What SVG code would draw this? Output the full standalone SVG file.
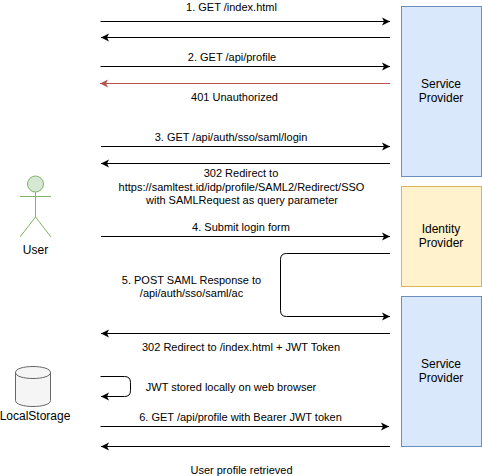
<svg xmlns="http://www.w3.org/2000/svg" width="482" height="476" viewBox="0 0 482 476">
<style>
text{font-family:"Liberation Sans",Arial,Helvetica,sans-serif;font-size:11px;fill:#000;text-anchor:middle}
.n{font-size:12px}
.c{fill:none;stroke:#000;stroke-width:1;marker-end:url(#a)}
.r{stroke:#b85450;marker-end:url(#ar)}
</style>
<defs>
<marker id="a" markerUnits="userSpaceOnUse" markerWidth="10" markerHeight="10" refX="8" refY="4" orient="auto" overflow="visible"><path d="M0 0L8 4L0 8L2 4Z" fill="#000"/></marker>
<marker id="ar" markerUnits="userSpaceOnUse" markerWidth="10" markerHeight="10" refX="8" refY="4" orient="auto" overflow="visible"><path d="M0 0L8 4L0 8L2 4Z" fill="#b85450"/></marker>
</defs>
<rect width="482" height="476" fill="#fff"/>
<g id="sp1"><rect x="401.500" y="6.500" width="80" height="170" fill="#dae8fc" stroke="#6c8ebf"/><text class="n" x="441" y="88">Service</text><text class="n" x="441" y="102">Provider</text></g>
<g id="idp"><rect x="401.500" y="186.500" width="80" height="100" fill="#fff2cc" stroke="#d6b656"/><text class="n" x="441" y="233">Identity</text><text class="n" x="441" y="247">Provider</text></g>
<g id="sp2"><rect x="401.500" y="296.500" width="80" height="150" fill="#dae8fc" stroke="#6c8ebf"/><text class="n" x="441" y="368">Service</text><text class="n" x="441" y="382">Provider</text></g>
<g id="user" fill="none" stroke="#82b366"><circle cx="35.500" cy="184" r="8" fill="#d5e8d4"/><path d="M35.500 192V217M20 196.500H51M35.500 217L20 237M35.500 217L51 237"/><text class="n" x="35.500" y="254" stroke="none">User</text></g>
<g id="localstorage"><path d="M15.500 372.500C15.500 364.500 50.500 364.500 50.500 372.500V400.500C50.500 408.500 15.500 408.500 15.500 400.500Z" fill="#f5f5f5" stroke="#666"/><path d="M15.500 372.500C15.500 380.500 50.500 380.500 50.500 372.500" fill="none" stroke="#666"/><text class="n" x="35" y="420">LocalStorage</text></g>
<g id="connectors">
<path class="c" d="M100.500 21.500H390"/><path class="c" d="M390 37.500H101"/>
<path class="c" d="M100.500 66.500H390"/><path class="c r" d="M390 83.500H100"/>
<path class="c" d="M101 146.500H390"/><path class="c" d="M390 163.500H101"/>
<path class="c" d="M101 236.500H390"/>
<path class="c" d="M390 253.500H286.500Q280.500 253.500 280.500 259.500V310.500Q280.500 316.500 286.500 316.500H390"/>
<path class="c" d="M390 333.500H101"/>
<path class="c" d="M100.500 376.500H124.500Q130.500 376.500 130.500 382.500V390.500Q130.500 396.500 124.500 396.500H101"/>
<path class="c" d="M100.500 426.500H389"/><path class="c" d="M390 446.500H101"/>
</g>
<g id="labels">
<text x="231.500" y="11">1. GET /index.html</text>
<text x="232" y="61">2. GET /api/profile</text>
<text x="234.500" y="101">401 Unauthorized</text>
<text x="231" y="141">3. GET /api/auth/sso/saml/login</text>
<text x="241" y="177">302 Redirect to</text>
<text x="241.500" y="191">https://samltest.id/idp/profile/SAML2/Redirect/SSO</text>
<text x="242" y="204">with SAMLRequest as query parameter</text>
<text x="241" y="231">4. Submit login form</text>
<text x="191.500" y="284">5. POST SAML Response to</text>
<text x="191.500" y="297">/api/auth/sso/saml/ac</text>
<text x="241" y="351">302 Redirect to /index.html + JWT Token</text>
<text x="231" y="391">JWT stored locally on web browser</text>
<text x="240.500" y="421">6. GET /api/profile with Bearer JWT token</text>
<text x="241.500" y="474">User profile retrieved</text>
</g>
</svg>
